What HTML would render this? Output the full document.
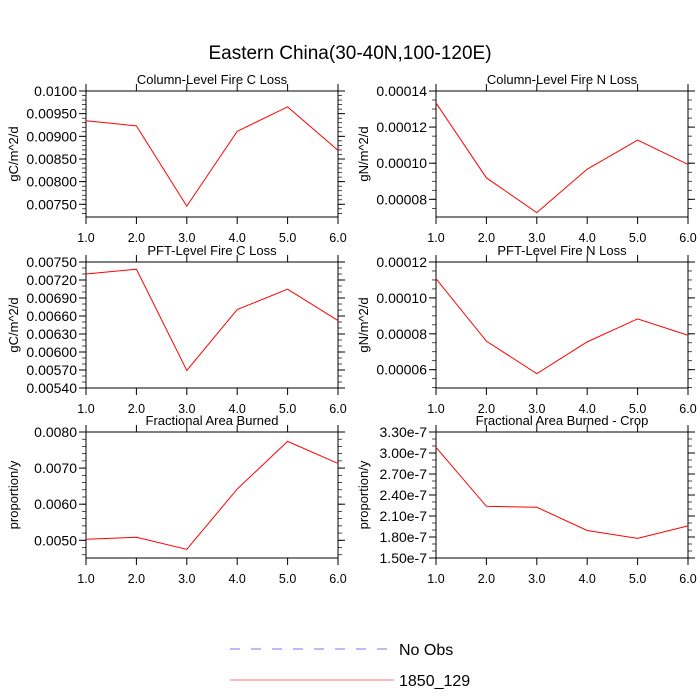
<!DOCTYPE html>
<html><head><meta charset="utf-8">
<style>
html,body{margin:0;padding:0;background:#fff;}
svg{display:block;font-family:"Liberation Sans",sans-serif;}
</style></head>
<body>
<svg id="chart" width="700" height="700" viewBox="0 0 700 700" xmlns="http://www.w3.org/2000/svg">
<rect x="0" y="0" width="700" height="700" fill="#fff"/>
<text x="350" y="59" font-size="19" text-anchor="middle" fill="#000">Eastern China(30-40N,100-120E)</text>
<g id="panels"></g>
<g>
<line x1="230" y1="649" x2="390" y2="649" stroke="#7777ee" stroke-width="1" stroke-dasharray="10,11"/>
<text x="399" y="655" font-size="16" fill="#000">No Obs</text>
<line x1="230" y1="680" x2="394" y2="680" stroke="#ff7777" stroke-width="1"/>
<text x="399" y="686" font-size="16" fill="#000">1850_129</text>
</g>
</svg>
<script>
const xCategories = [1,2,3,4,5,6];
const xTickLabels = ["1.0","2.0","3.0","4.0","5.0","6.0"];
const titles = ["Column-Level Fire C Loss","Column-Level Fire N Loss","PFT-Level Fire C Loss","PFT-Level Fire N Loss","Fractional Area Burned","Fractional Area Burned - Crop"];
const yTitles = ["gC/m^2/d","gN/m^2/d","gC/m^2/d","gN/m^2/d","proportion/y","proportion/y"];
const colCLoss = [0.009343,0.00923,0.00746,0.00911,0.00965,0.00869];
const colNLoss = [0.0001334,0.0000919,0.0000726,0.0000967,0.0001128,0.0000993];
const pftCLoss = [0.00730,0.00738,0.005693,0.006707,0.007047,0.006524];
const pftNLoss = [0.0001107,0.0000759,0.0000578,0.0000755,0.0000883,0.0000792];
const fracBurned = [0.005028,0.005083,0.00475,0.00642,0.00774,0.00713];
const fracBurnedCrop = [3.081e-7,2.239e-7,2.225e-7,1.893e-7,1.78e-7,1.959e-7];
const yMins = [0.00722,0.0000702,0.0054,0.0000498,0.00451,1.5e-7];
const yMaxs = [0.0100,0.00014,0.0075,0.00012,0.0080,3.3e-7];
const yTickVals = [
 [0.0075,0.0080,0.0085,0.0090,0.0095,0.0100],
 [0.00008,0.00010,0.00012,0.00014],
 [0.0054,0.0057,0.0060,0.0063,0.0066,0.0069,0.0072,0.0075],
 [0.00006,0.00008,0.00010,0.00012],
 [0.0050,0.0060,0.0070,0.0080],
 [1.5e-7,1.8e-7,2.1e-7,2.4e-7,2.7e-7,3.0e-7,3.3e-7]];
const yTickLabels = [
 ["0.00750","0.00800","0.00850","0.00900","0.00950","0.0100"],
 ["0.00008","0.00010","0.00012","0.00014"],
 ["0.00540","0.00570","0.00600","0.00630","0.00660","0.00690","0.00720","0.00750"],
 ["0.00006","0.00008","0.00010","0.00012"],
 ["0.0050","0.0060","0.0070","0.0080"],
 ["1.50e-7","1.80e-7","2.10e-7","2.40e-7","2.70e-7","3.00e-7","3.30e-7"]];
const series = [colCLoss,colNLoss,pftCLoss,pftNLoss,fracBurned,fracBurnedCrop];
const minorPer = [5,4,3,4,5,3];

const NS="http://www.w3.org/2000/svg";
const root=document.getElementById('panels');
function mk(tag,attrs,parent){const e=document.createElementNS(NS,tag);for(const k in attrs)e.setAttribute(k,attrs[k]);parent.appendChild(e);return e;}
const lefts=[86,436], tops=[91,262,432], W=252, H=126;
for(let i=0;i<6;i++){
  const x0=lefts[i%2], y0=tops[Math.floor(i/2)];
  const g=mk('g',{},root);
  
  
  const xs=v=>x0+(v-1)/5*W;
  const ys=v=>y0+H-(v-yMins[i])/(yMaxs[i]-yMins[i])*H;
  const t=mk('text',{x:x0+W/2,y:y0-7,'font-size':13,'text-anchor':'middle',fill:'#000'},g);
  t.textContent=titles[i];
  
  
  const fr=mk('rect',{x:x0,y:y0,width:W,height:H,fill:'none',stroke:'#000','stroke-width':1},g);
  
  
  xCategories.forEach((c,k)=>{
    const x=xs(c);
    mk('line',{x1:x,y1:y0,x2:x,y2:y0-7,stroke:'#000'},g);
    mk('line',{x1:x,y1:y0+H,x2:x,y2:y0+H+7,stroke:'#000'},g);
    const lt=mk('text',{x:x,y:y0+H+25,'font-size':12.5,'text-anchor':'middle',fill:'#000'},g);
    lt.textContent=xTickLabels[k];
    
    
  });
  const tv=yTickVals[i], step=tv[1]-tv[0], mstep=step/minorPer[i];
  for(let v=tv[0]-step;v<=yMaxs[i]+1e-12;v+=mstep){
    if(v<yMins[i]-1e-12) continue;
    const y=ys(v);
    mk('line',{x1:x0,y1:y,x2:x0-4,y2:y,stroke:'#000','stroke-width':0.7},g);
    mk('line',{x1:x0+W,y1:y,x2:x0+W+4,y2:y,stroke:'#000','stroke-width':0.7},g);
  }
  tv.forEach((v,k)=>{
    const y=ys(v);
    mk('line',{x1:x0,y1:y,x2:x0-7,y2:y,stroke:'#000'},g);
    mk('line',{x1:x0+W,y1:y,x2:x0+W+7,y2:y,stroke:'#000'},g);
    const lt=mk('text',{x:x0-9,y:y+5,'font-size':14,'text-anchor':'end',fill:'#000'},g);
    lt.textContent=yTickLabels[i][k];
    
    
  });
  const yt=mk('text',{x:0,y:0,'font-size':13,'text-anchor':'middle',fill:'#000',transform:`translate(${x0-68},${y0+H/2}) rotate(-90)`},g);
  yt.textContent=yTitles[i];
  
  
  const pts=series[i].map((v,k)=>xs(xCategories[k]).toFixed(2)+','+ys(v).toFixed(2)).join(' ');
  const pl=mk('polyline',{points:pts,fill:'none',stroke:'#ff0000','stroke-width':1},g);
  
  
}
</script>
</body></html>
